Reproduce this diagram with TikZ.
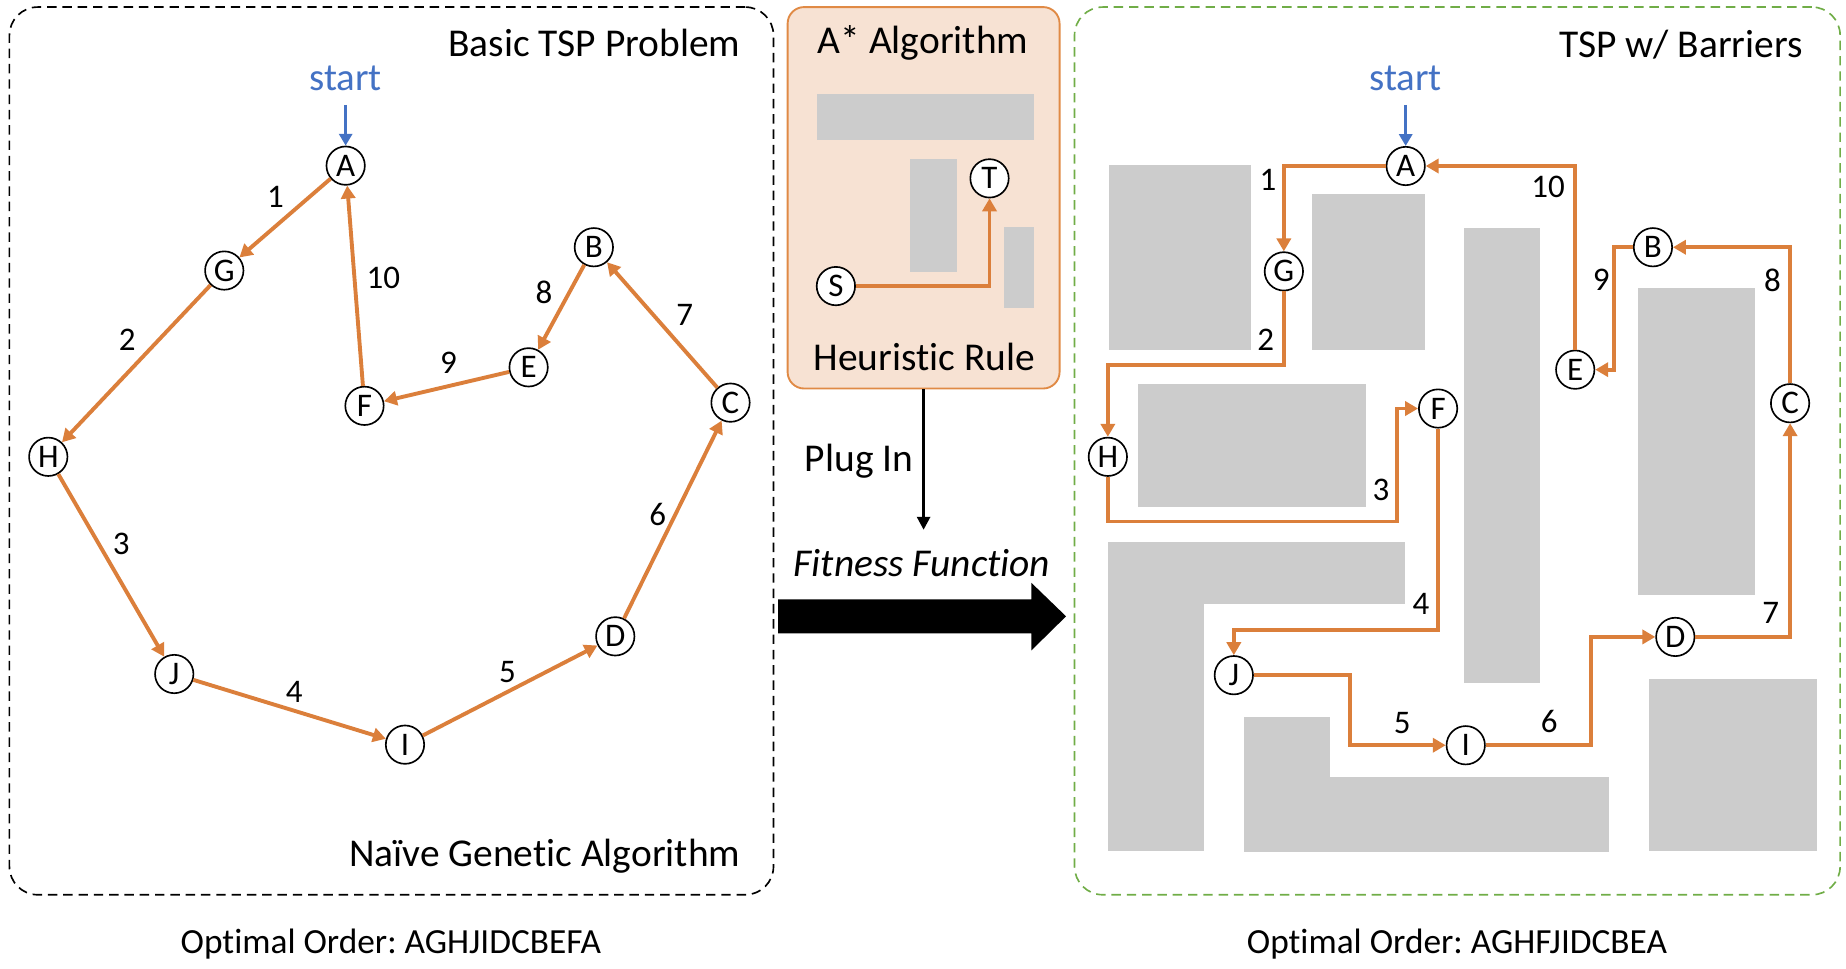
\documentclass[tikz,border=0pt]{standalone}
\usepackage{fontspec}
\setmainfont{Carlito}[Ligatures={NoCommon,NoRare}]
\frenchspacing
\usetikzlibrary{arrows.meta}
\definecolor{orng}{HTML}{DB7F3B}
\definecolor{orngbox}{HTML}{E08A45}
\definecolor{peach}{HTML}{F7E2D3}
\definecolor{barriergray}{HTML}{CCCCCC}
\definecolor{startblue}{HTML}{4472C4}
\definecolor{panelgreen}{HTML}{70AD47}
\begin{document}
\begin{tikzpicture}[x=1pt,y=-1pt,
  city/.style={circle, draw=black, line width=1.4pt, fill=white, minimum size=32.6pt, inner sep=0pt, font=\fontsize{28}{30}\selectfont},
  route/.style={draw=orng, line width=3.3pt, -{Triangle[length=11pt,width=12pt]}},
  num/.style={font=\fontsize{28}{30}\selectfont, inner sep=0pt},
  ttl/.style={font=\fontsize{33.5}{40}\selectfont, inner sep=0pt},
  captext/.style={font=\fontsize{30}{36}\selectfont, inner sep=0pt},
  startlbl/.style={font=\fontsize{33}{40}\selectfont, text=startblue, inner sep=0pt},
  startarr/.style={draw=startblue, line width=2.8pt, -{Triangle[length=10pt,width=11pt]}},
  leftpanel/.style={draw=black, line width=1.4pt, dash pattern=on 8pt off 5pt, rounded corners=24pt, minimum width=649pt, minimum height=754pt},
  rightpanel/.style={draw=panelgreen, line width=1.4pt, dash pattern=on 8pt off 5pt, rounded corners=24pt, minimum width=650.3pt, minimum height=754pt},
  astarbox/.style={draw=orngbox, line width=1.6pt, fill=peach, rounded corners=14pt, minimum width=231pt, minimum height=324pt},
  plug/.style={draw=black, line width=2.4pt, -{Triangle[length=11pt,width=11pt]}}
]
\useasboundingbox (0,0) rectangle (1568,823);

% ---------------- panels ----------------
\node[leftpanel] (lp) at (332.5,383) {};
\node[rightpanel] (rp) at (1237.85,383) {};
\node[astarbox] (astar) at (784.5,168) {};

% ---------------- left panel ----------------
\node[ttl, anchor=base east] (lt) at (629,48) {Basic TSP Problem};
\node[ttl, anchor=base east] (lb) at (629,736) {Naïve Genetic Algorithm};
\node[captext, anchor=base] (lc) at (332,810) {Optimal Order: AGHJIDCBEFA};
\node[startlbl, anchor=base] (sl) at (293.6,77) {start};

\node[city] (LA) at (293.6,140.7) {A};
\node[city] (LG) at (190.5,229.8) {G};
\node[city] (LB) at (504.4,210) {B};
\node[city] (LE) at (449,312) {E};
\node[city] (LF) at (309.6,344.7) {F};
\node[city] (LC) at (620.5,342) {C};
\node[city] (LH) at (41,388) {H};
\node[city] (LJ) at (148,572.5) {J};
\node[city] (LI) at (344,632.5) {I};
\node[city] (LD) at (522.6,540.5) {D};

\coordinate (sLa) at (293.6,89);
\draw[startarr] (sLa) -- (LA);

\draw[route] (LA) -- (LG);
\draw[route] (LG) -- (LH);
\draw[route] (LH) -- (LJ);
\draw[route] (LJ) -- (LI);
\draw[route] (LI) -- (LD);
\draw[route] (LD) -- (LC);
\draw[route] (LC) -- (LB);
\draw[route] (LB) -- (LE);
\draw[route] (LE) -- (LF);
\draw[route] (LF) -- (LA);

\node[num] (l1) at (234,167) {1};
\node[num] (l2) at (108,289) {2};
\node[num] (l3) at (103,462) {3};
\node[num] (l4) at (250,588) {4};
\node[num] (l5) at (431,571) {5};
\node[num] (l6) at (558.6,437) {6};
\node[num] (l7) at (581.5,267.4) {7};
\node[num] (l8) at (462,248.5) {8};
\node[num] (l9) at (381,308) {9};
\node[num] (l10) at (325.6,236) {10};

% ---------------- middle ----------------
\node[ttl, anchor=base] (at) at (784,45.3) {A* Algorithm};
\node[ttl, anchor=base] (hr) at (785,314.7) {Heuristic Rule};
\fill[barriergray] (694,80) rectangle (878,119);
\fill[barriergray] (773,135) rectangle (813,231);
\fill[barriergray] (853,193) rectangle (878,262);
\node[city] (S) at (710,243) {S};
\node[city] (T) at (840.5,151.5) {T};
\draw[route] (S) -| (T);

\coordinate (plugtip) at (784.5,450);
\draw[plug] (astar.south) -- (plugtip);
\node[ttl, anchor=base west] (pi) at (683.5,400.5) {Plug In};
\node[ttl, anchor=base] (ff) at (783.2,489.6) {\itshape Fitness Function};
\fill[black] (661,509) -- (876,509) -- (876,495) -- (905.5,523.5) -- (876,552.5) -- (876,538) -- (661,538) -- cycle;

% ---------------- right panel ----------------
\node[ttl, anchor=base east] (rt) at (1531.5,48.7) {TSP w/ Barriers};
\node[captext, anchor=base] (rc) at (1237.5,810) {Optimal Order: AGHFJIDCBEA};
\node[startlbl, anchor=base] (sr) at (1194,77) {start};

\fill[barriergray] (941.8,140) rectangle (1063,297);
\fill[barriergray] (1114,165) rectangle (1210.7,297);
\fill[barriergray] (966.4,326) rectangle (1160.3,431);
\fill[barriergray] (1243.7,193.3) rectangle (1308.3,580.2);
\fill[barriergray] (1391.5,245) rectangle (1490.5,505.8);
\fill[barriergray] (941,460) rectangle (1023,723);
\fill[barriergray] (941,460) rectangle (1193,513);
\fill[barriergray] (1057,609) rectangle (1130,723.5);
\fill[barriergray] (1129,660.3) rectangle (1366.3,723.7);
\fill[barriergray] (1400.8,576.5) rectangle (1543,723);

\node[city] (RA) at (1194,141) {A};
\node[city] (RG) at (1090.5,230.5) {G};
\node[city] (RH) at (941,388) {H};
\node[city] (RF) at (1221.5,347) {F};
\node[city] (RJ) at (1048,573.5) {J};
\node[city] (RI) at (1245,633) {I};
\node[city] (RD) at (1423,541) {D};
\node[city] (RC) at (1520.5,342.5) {C};
\node[city] (RB) at (1404,210) {B};
\node[city] (RE) at (1338,314) {E};

\coordinate (sRa) at (1194,89);
\draw[startarr] (sRa) -- (RA);

\coordinate (r2) at (941,310);
\coordinate (r3) at (1186.6,443);
\coordinate (r4) at (1048,535);
\coordinate (r5) at (1147,633);
\coordinate (r6) at (1351.3,541);
\coordinate (r9) at (1371,314);

\draw[route] (RA) -| (RG);
\draw[route] (RG) |- (r2) -- (RH);
\draw[route] (RH) |- (r3) |- (RF);
\draw[route] (RF) |- (r4) -- (RJ);
\draw[route] (RJ) -| (r5) -- (RI);
\draw[route] (RI) -| (r6) -- (RD);
\draw[route] (RD) -| (RC);
\draw[route] (RC) |- (RB);
\draw[route] (RB) -| (r9) -- (RE);
\draw[route] (RE) |- (RA);

\node[num] (r1l) at (1077,153) {1};
\node[num] (r2l) at (1075,289) {2};
\node[num] (r3l) at (1173,416) {3};
\node[num] (r4l) at (1207,513) {4};
\node[num] (r5l) at (1191,614) {5};
\node[num] (r6l) at (1316,613) {6};
\node[num] (r7l) at (1504,521) {7};
\node[num] (r8l) at (1505.5,238) {8};
\node[num] (r9l) at (1360,238) {9};
\node[num] (r10l) at (1315,158.5) {10};
\end{tikzpicture}
\end{document}
